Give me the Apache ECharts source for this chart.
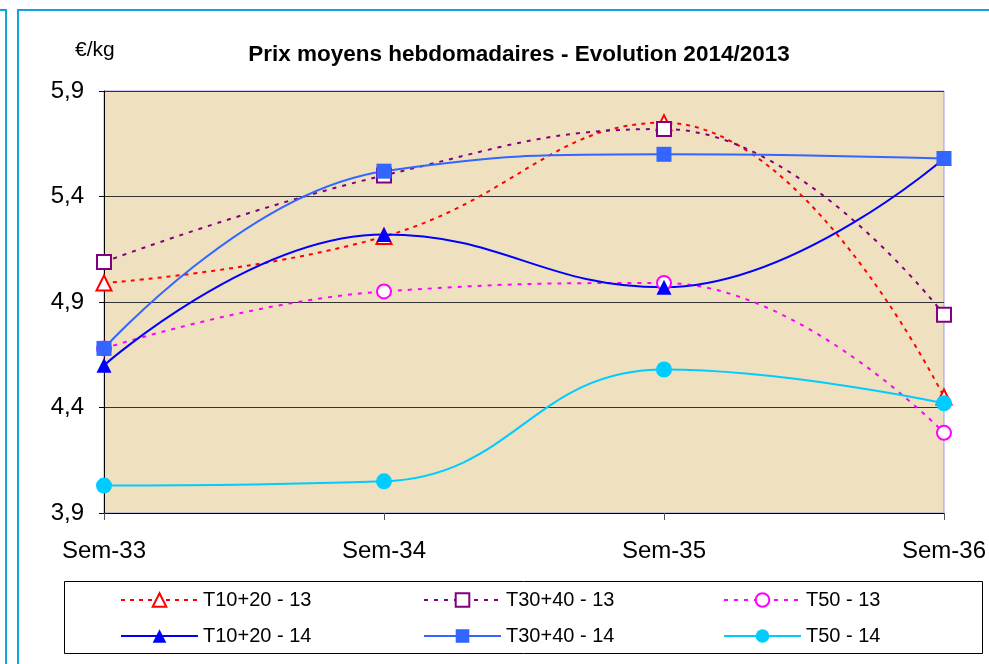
<!DOCTYPE html>
<html>
<head>
    <meta charset="utf-8">
    <title>Prix moyens hebdomadaires</title>
    <style>
        *{ margin:0; padding:0; box-sizing:border-box; }
        html, body, #chart{ width:100%; height:100%; overflow:hidden; background:#fff; }
    </style>
</head>
<body>
    <div id="chart"></div>
    <script src="https://cdn.jsdelivr.net/npm/echarts@6/dist/echarts.min.js"></script>
    <script>
        var weeks = ['Sem-33', 'Sem-34', 'Sem-35', 'Sem-36'];
        var yTicks = [3.9, 4.4, 4.9, 5.4, 5.9];

        var t1020_13 = [4.99, 5.21, 5.75, 4.45];
        var t3040_13 = [5.09, 5.50, 5.72, 4.84];
        var t50_13   = [4.68, 4.95, 4.99, 4.28];
        var t1020_14 = [4.60, 5.22, 4.97, 5.58];
        var t3040_14 = [4.68, 5.52, 5.60, 5.58];
        var t50_14   = [4.03, 4.05, 4.58, 4.42];

        var font = 'Liberation Sans, Arial, sans-serif';
        var chart = echarts.init(document.getElementById('chart'));

        // serie en pointillés (2013), marqueurs creux
        function dotted(name, data, color, symbol, dash) {
            return {
                name: name, type: 'line', data: data, smooth: 0.45,
                symbol: symbol, symbolSize: symbol == 'triangle' ? 15 : 14,
                lineStyle: { color: color, width: 2, type: dash },
                itemStyle: { color: '#fff', borderColor: color, borderWidth: 2 }
            };
        }
        // serie pleine (2014)
        function solid(name, data, color, symbol) {
            return {
                name: name, type: 'line', data: data, smooth: 0.45,
                symbol: symbol, symbolSize: symbol == 'triangle' ? 15 : (symbol == 'circle' ? 16 : 15),
                lineStyle: { color: color, width: 2 },
                itemStyle: { color: color, borderWidth: 0 }
            };
        }

        var legendBase = {
            orient: 'vertical', top: 590, padding: 0, itemWidth: 77, itemHeight: 17, itemGap: 16,
            textStyle: { fontFamily: font, fontSize: 20, color: '#000' }
        };

        var option = {
            animation: false,
            backgroundColor: '#fff',
            title: {
                text: 'Prix moyens hebdomadaires - Evolution 2014/2013',
                left: 514, top: 38, textAlign: 'center',
                textStyle: { fontFamily: font, fontSize: 22.5, fontWeight: 'bold', color: '#000' }
            },
            graphic: [
                { type: 'rect', shape: { x: -10, y: 10, width: 16, height: 700 },
                  style: { fill: 'none', stroke: '#12a2e0', lineWidth: 2 } },
                { type: 'rect', shape: { x: 18, y: 10, width: 1000, height: 700 },
                  style: { fill: 'none', stroke: '#12a2e0', lineWidth: 2 } },
                { type: 'rect', shape: { x: 64.5, y: 581.5, width: 918, height: 72 },
                  style: { fill: 'none', stroke: '#000', lineWidth: 1 } },
                { type: 'text', left: 75, top: 40,
                  style: { text: '€/kg', font: '21px ' + font, fill: '#000' } }
            ],
            legend: [
                Object.assign({ left: 120, data: ['T10+20 - 13', 'T10+20 - 14'] }, legendBase),
                Object.assign({ left: 423, data: ['T30+40 - 13', 'T30+40 - 14'] }, legendBase),
                Object.assign({ left: 723, data: ['T50 - 13', 'T50 - 14'] }, legendBase)
            ],
            grid: {
                left: 104, right: 45, top: 91, bottom: 151,
                show: true, backgroundColor: '#efe1bf', borderColor: '#9a9af0', borderWidth: 1
            },
            xAxis: {
                type: 'category', data: weeks, boundaryGap: false,
                axisLine: { lineStyle: { color: '#000', width: 1 } },
                axisTick: { show: true, length: 7, lineStyle: { color: '#555' } },
                axisLabel: { fontFamily: font, fontSize: 24, color: '#000', margin: 26 }
            },
            yAxis: {
                type: 'value', min: 3.9, max: 5.9,
                axisLine: { show: true, lineStyle: { color: '#000', width: 1 } },
                axisTick: { show: true, length: 5, customValues: yTicks, lineStyle: { color: '#000' } },
                axisLabel: {
                    fontFamily: font, fontSize: 24, color: '#000', margin: 20,
                    customValues: yTicks,
                    formatter: function (v) { return v.toFixed(1).replace('.', ','); }
                },
                splitLine: { show: true, lineStyle: { color: '#333', width: 1 } }
            },
            series: [
                dotted('T10+20 - 13', t1020_13, '#ff0000', 'triangle', [4, 5]),
                dotted('T30+40 - 13', t3040_13, '#800080', 'rect', [4, 6]),
                dotted('T50 - 13', t50_13, '#ff00ff', 'circle', [4, 6]),
                solid('T10+20 - 14', t1020_14, '#0000ff', 'triangle'),
                solid('T30+40 - 14', t3040_14, '#3366ff', 'rect'),
                solid('T50 - 14', t50_14, '#00ccff', 'circle')
            ]
        };

        chart.setOption(option);
    </script>
</body>
</html>
